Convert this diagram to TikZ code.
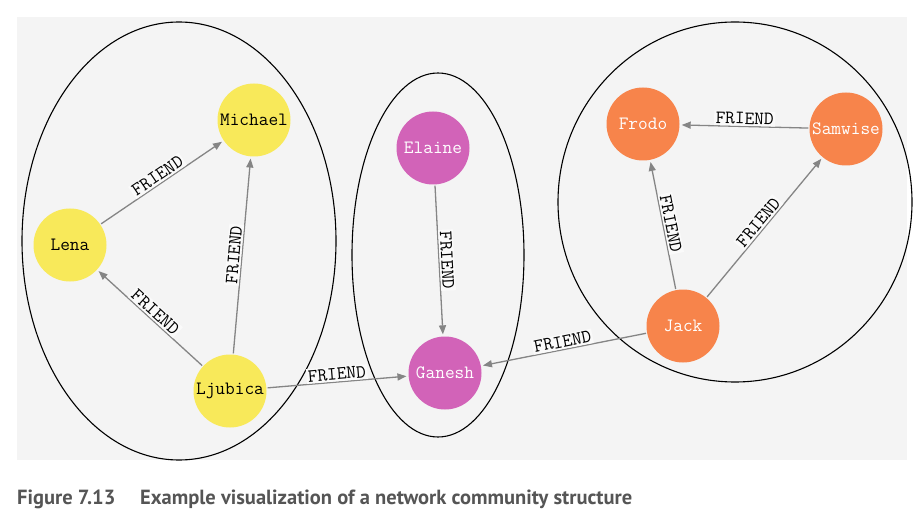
\documentclass[tikz,border=0pt]{standalone}
\usepackage{fontspec}
\usetikzlibrary{arrows.meta}
\newfontfamily\capfont{PT Sans}
\definecolor{bggray}{HTML}{F4F4F4}
\definecolor{nyellow}{HTML}{F8E95A}
\definecolor{npink}{HTML}{D263B8}
\definecolor{norange}{HTML}{F7844B}
\definecolor{egray}{HTML}{858585}
\definecolor{lblbg}{HTML}{FAFAFA}
\definecolor{capgray}{HTML}{555555}
\tikzset{
  person/.style={circle, minimum size=73pt, inner sep=0pt, font=\ttfamily\fontsize{18.8}{20}\selectfont},
  yel/.style={person, fill=nyellow, text=black},
  pnk/.style={person, fill=npink, text=white},
  org/.style={person, fill=norange, text=white},
  rel/.style={draw=egray, line width=1.3pt, -{Triangle[length=9pt,width=7pt]}, shorten >=2pt, shorten <=1pt},
  rlabel/.style={midway, sloped, above, fill=lblbg, inner sep=1.5pt, font=\ttfamily\fontsize{18.8}{20}\selectfont, text=black},
  community/.style={draw=black, line width=1.1pt},
  captxt/.style={anchor=base west, inner sep=0pt, text=capgray, font=\capfont\bfseries\fontsize{20.5}{24}\selectfont}
}
\begin{document}
\begin{tikzpicture}[x=1pt,y=-1pt]
\useasboundingbox (0,0) rectangle (922,524);
\fill[bggray] (17,17) rectangle (907,460);
% communities
\draw[community] (179,241) ellipse [x radius=157pt, y radius=219pt];
\draw[community] (438,255) ellipse [x radius=86pt, y radius=182pt];
\draw[community] (735,202) ellipse [x radius=177pt, y radius=180pt];
% nodes
\node[yel] (michael) at (254,120) {Michael};
\node[yel] (lena) at (70,245) {Lena};
\node[yel] (ljubica) at (230,391) {Ljubica};
\node[pnk] (elaine) at (433,148) {Elaine};
\node[pnk] (ganesh) at (445,373) {Ganesh};
\node[org] (frodo) at (643,124) {Frodo};
\node[org] (samwise) at (846,129) {Samwise};
\node[org] (jack) at (683,326) {Jack};
% relationships
\draw[rel] (lena) -- node[rlabel] {FRIEND} (michael);
\draw[rel] (ljubica) -- node[rlabel] {FRIEND} (lena);
\draw[rel] (ljubica) -- node[rlabel] {FRIEND} (michael);
\draw[rel] (ljubica) -- node[rlabel] {FRIEND} (ganesh);
\draw[rel] (elaine) -- node[rlabel] {FRIEND} (ganesh);
\draw[rel] (jack) -- node[rlabel] {FRIEND} (ganesh);
\draw[rel] (samwise) -- node[rlabel] {FRIEND} (frodo);
\draw[rel] (jack) -- node[rlabel] {FRIEND} (frodo);
\draw[rel] (jack) -- node[rlabel] {FRIEND} (samwise);
% caption
\node[captxt] (figno) at (17,504) {Figure 7.13};
\node[captxt] (captext) at (140,504) {Example visualization of a network community structure};
\end{tikzpicture}
\end{document}
